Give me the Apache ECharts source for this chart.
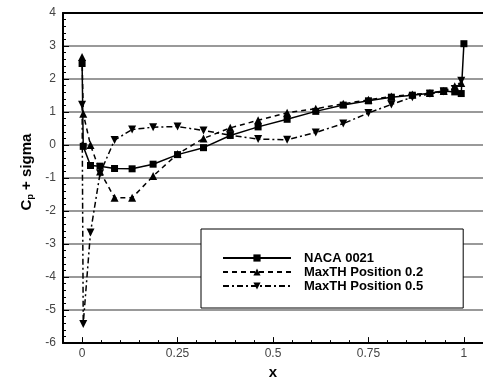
<!DOCTYPE html>
<html>
<head>
<meta charset="utf-8">
<script src="https://cdn.jsdelivr.net/npm/echarts@6/dist/echarts.min.js"></script>
<style>
  html, body { margin: 0; padding: 0; background: #fff; }
  #chart { width: 483px; height: 385px; }
</style>
</head>
<body>
<div id="chart"></div>
<script>
// Chordwise stations (x/c) shared by the three profiles
const xStations = [0, 0.003, 0.022, 0.047, 0.085, 0.131, 0.186, 0.25, 0.318, 0.388, 0.461,
                   0.537, 0.612, 0.684, 0.75, 0.81, 0.865, 0.911, 0.947, 0.976, 0.993, 1.0];

// Cp + sigma for each profile
const naca0021 = [2.47, -0.04, -0.62, -0.64, -0.71, -0.72, -0.58, -0.29, -0.08, 0.29, 0.55,
                  0.78, 1.02, 1.21, 1.34, 1.45, 1.51, 1.57, 1.64, 1.61, 1.56, 3.07];
const maxTh02 = [2.67, 0.95, 0.0, -0.80, -1.60, -1.60, -0.94, -0.27, 0.20, 0.52, 0.75,
                 0.98, 1.10, 1.25, 1.37, 1.47, 1.53, 1.58, 1.64, 1.78, 1.88];
const maxTh05 = [1.22, -5.42, -2.65, -0.86, 0.15, 0.47, 0.54, 0.56, 0.44, 0.30, 0.18,
                 0.16, 0.38, 0.65, 0.97, 1.23, 1.45, 1.55, 1.62, 1.70, 1.95];

const seriesNames = ['NACA 0021', 'MaxTH Position 0.2', 'MaxTH Position 0.5'];
const xTickLabels = [0, 0.25, 0.5, 0.75, 1];

const pairs = (ys) => ys.map((y, i) => [xStations[i], y]);

const FONT = '"Liberation Sans", Arial, sans-serif';
const chart = echarts.init(document.getElementById('chart'), null, { renderer: 'canvas' });

const baseX = { type: 'value', min: -0.05, max: 1.05, gridIndex: 0 };

chart.setOption({
  animation: false,
  backgroundColor: '#fff',
  grid: { left: 63, top: 13, width: 424, height: 342, containLabel: false },
  xAxis: [
    Object.assign({}, baseX, {
      position: 'bottom',
      interval: 0.05,
      axisLine: { show: true, onZero: false, lineStyle: { color: '#000', width: 2 } },
      axisTick: { show: true, inside: true, length: 3, lineStyle: { color: '#000', width: 1 } },
      axisLabel: {
        show: true, margin: 5, color: '#444', fontFamily: FONT, fontSize: 12,
        customValues: xTickLabels,
        formatter: (v) => String(Math.round(v * 100) / 100)
      },
      splitLine: { show: false },
      name: 'x', nameLocation: 'middle', nameGap: 8,
      nameTextStyle: { fontFamily: FONT, fontWeight: 'bold', fontSize: 15, color: '#000' }
    }),
    Object.assign({}, baseX, {
      position: 'bottom',
      axisLine: { show: false, onZero: false },
      axisTick: { show: true, inside: true, length: 6, customValues: xTickLabels,
                  lineStyle: { color: '#000', width: 1 } },
      axisLabel: { show: false },
      splitLine: { show: false }
    }),
    Object.assign({}, baseX, {
      position: 'top',
      axisLine: { show: true, onZero: false, lineStyle: { color: '#000', width: 2 } },
      axisTick: { show: false },
      axisLabel: { show: false },
      splitLine: { show: false }
    })
  ],
  yAxis: {
    type: 'value', min: -6, max: 4, interval: 1, position: 'left',
    axisLine: { show: true, onZero: false, lineStyle: { color: '#000', width: 2 } },
    axisTick: { show: true, inside: true, length: 6, lineStyle: { color: '#000', width: 1 } },
    minorTick: { show: true, splitNumber: 5, length: 3, lineStyle: { color: '#000', width: 1 } },
    axisLabel: { margin: 7, color: '#444', fontFamily: FONT, fontSize: 12 },
    splitLine: { show: true, lineStyle: { color: '#777', width: 1.5 } }
  },
  legend: {
    orient: 'vertical',
    left: 201, top: 229,
    padding: [22, 40, 15, 21],
    itemWidth: 68, itemHeight: 9, itemGap: 0,
    backgroundColor: '#fff', borderColor: '#000', borderWidth: 1,
    textStyle: { fontFamily: FONT, fontWeight: 'bold', fontSize: 13, color: '#000',
                 lineHeight: 14, padding: [0, 0, 0, 8] },
    data: seriesNames
  },
  graphic: [{
    type: 'text',
    x: 27, y: 172, rotation: Math.PI / 2,
    style: {
      text: '{m|C}{s|p}{m| + sigma}',
      align: 'center', verticalAlign: 'middle',
      rich: {
        m: { fontFamily: FONT, fontWeight: 'bold', fontSize: 15, fill: '#000' },
        s: { fontFamily: FONT, fontWeight: 'bold', fontSize: 9, fill: '#000', padding: [7, 0, 0, 0] }
      }
    }
  }],
  series: [
    {
      name: seriesNames[0], type: 'line', data: pairs(naca0021),
      symbol: 'rect', symbolSize: 7,
      lineStyle: { color: '#000', width: 1.5, type: 'solid' },
      itemStyle: { color: '#000' }
    },
    {
      name: seriesNames[1], type: 'line', data: pairs(maxTh02),
      symbol: 'triangle', symbolSize: 8,
      lineStyle: { color: '#000', width: 1.5, type: [5, 4] },
      itemStyle: { color: '#000' }
    },
    {
      name: seriesNames[2], type: 'line', data: pairs(maxTh05),
      symbol: 'triangle', symbolSize: 8, symbolRotate: 180,
      lineStyle: { color: '#000', width: 1.5, type: [6, 3, 2, 3] },
      itemStyle: { color: '#000' }
    }
  ]
});
</script>
</body>
</html>
